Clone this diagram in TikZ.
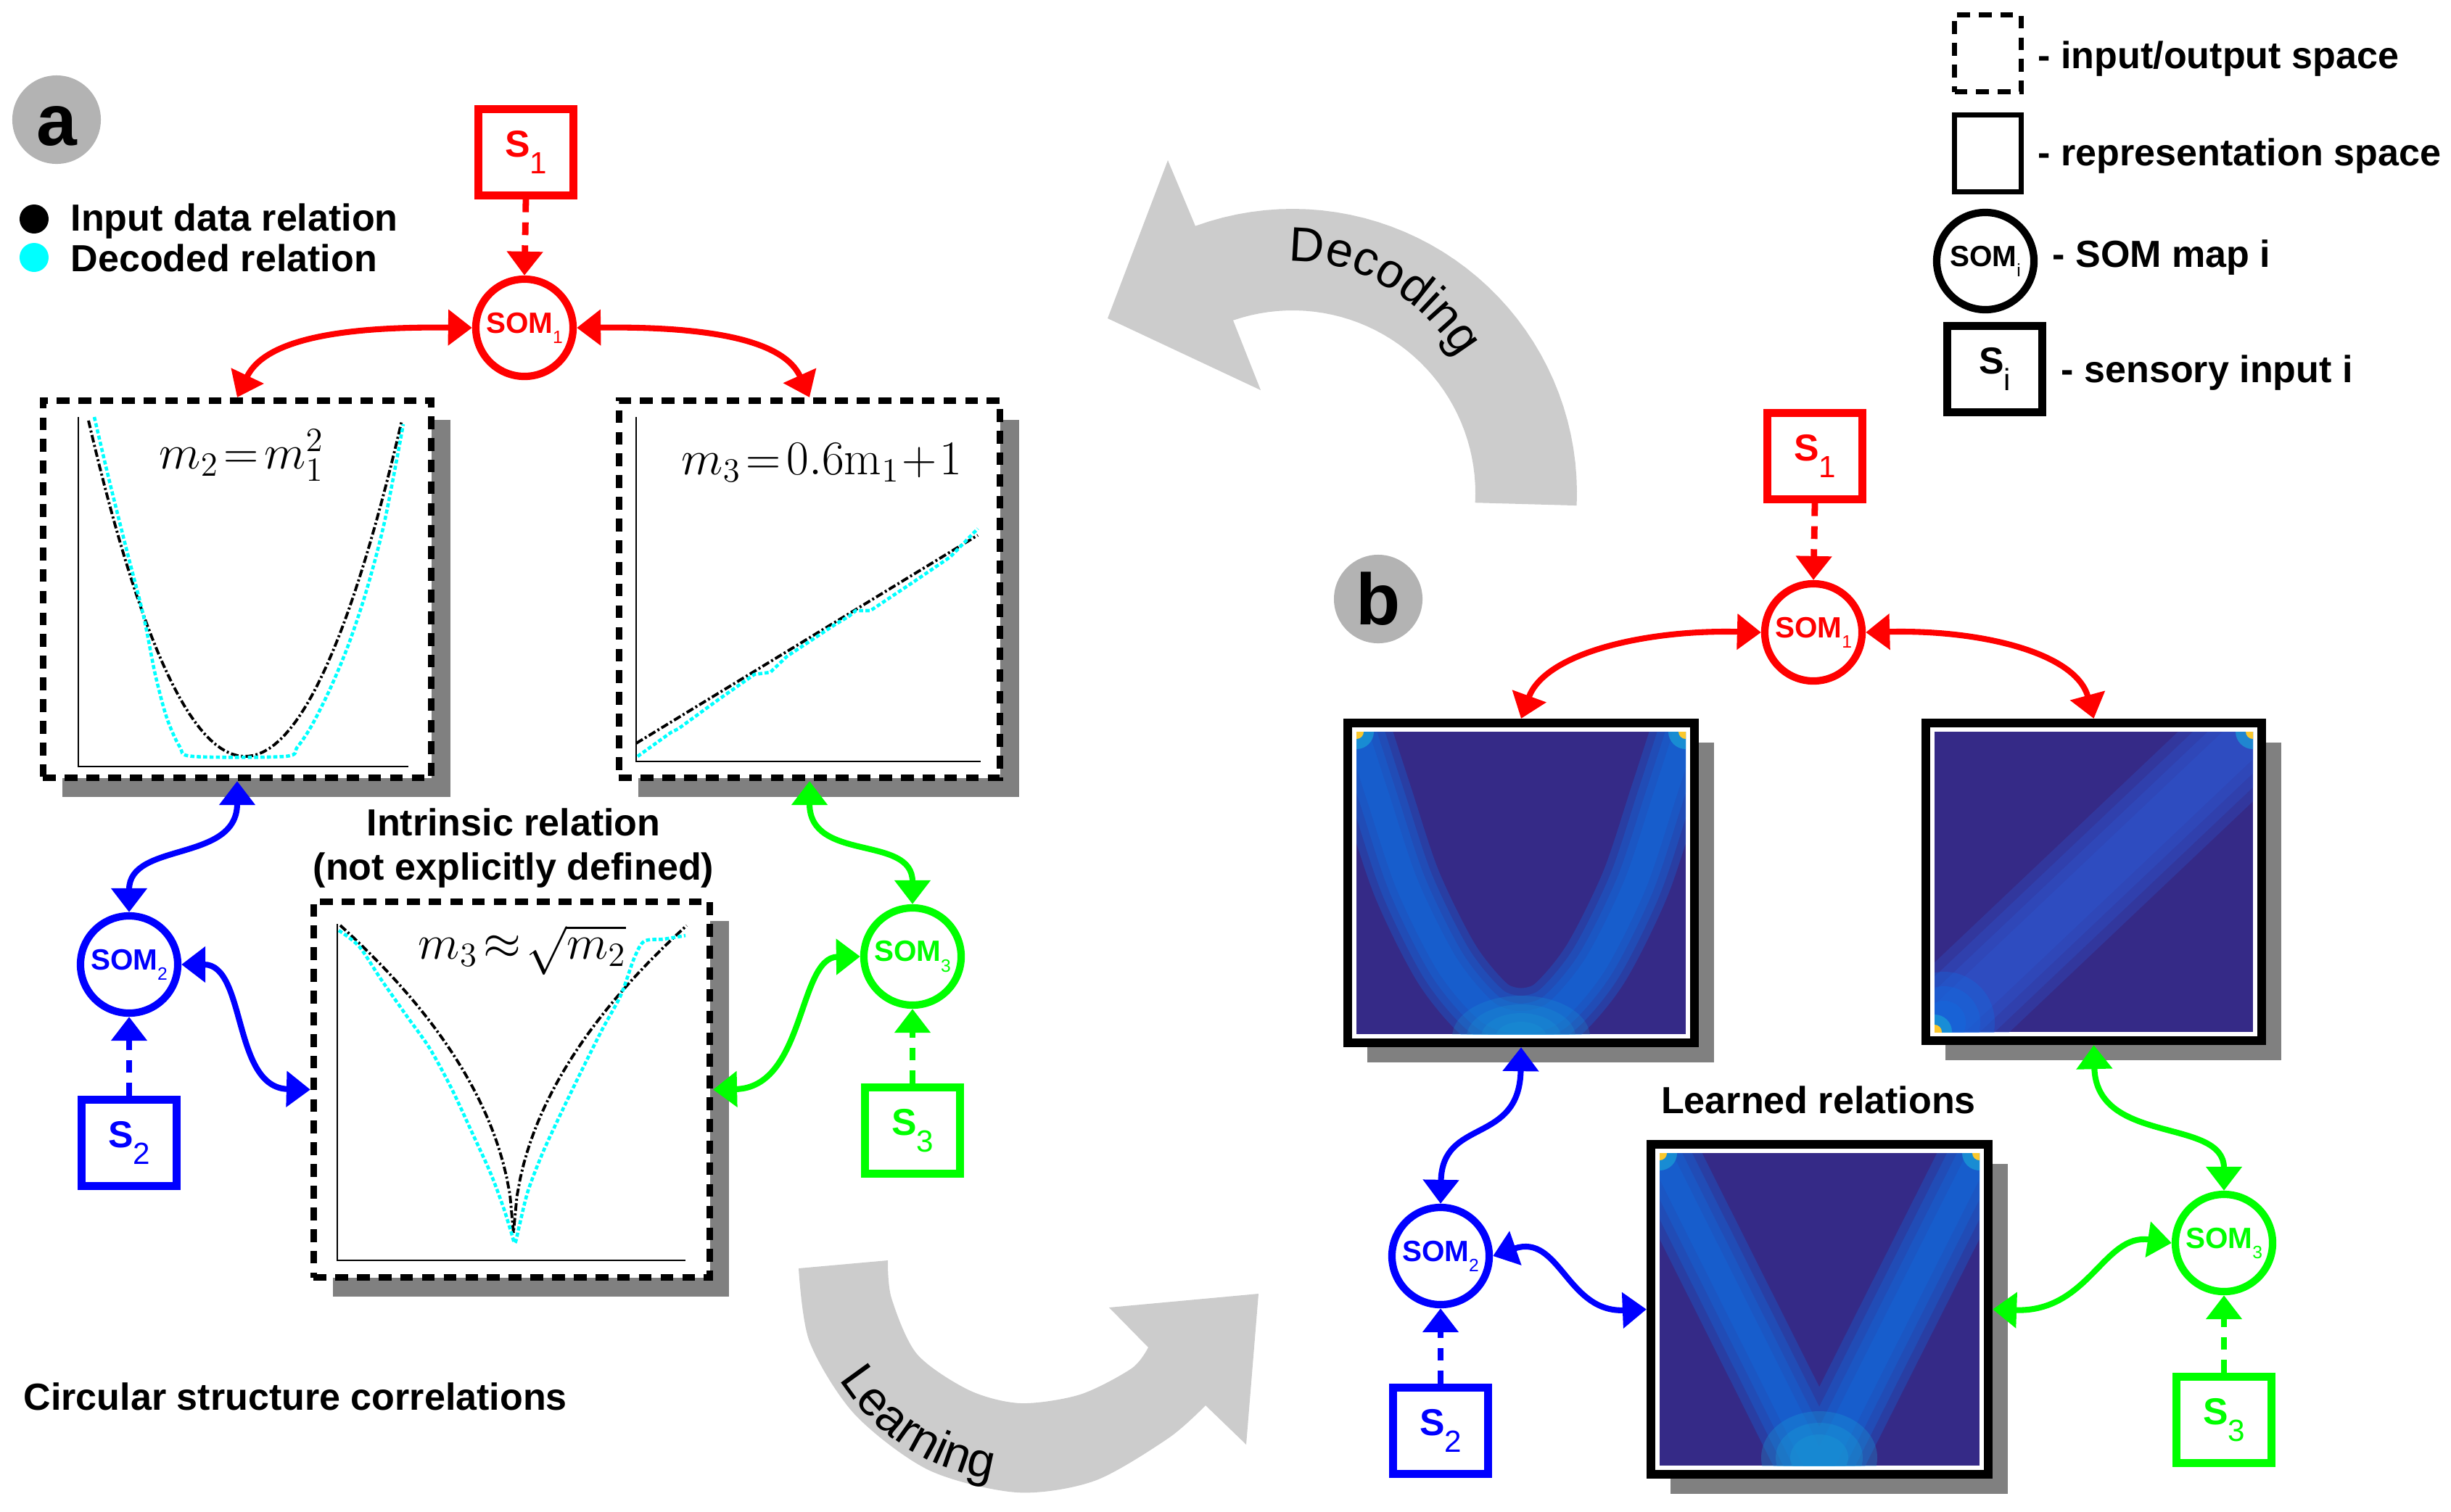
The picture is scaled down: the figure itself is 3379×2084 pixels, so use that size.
\documentclass[tikz,border=0pt]{standalone}
\usepackage{fix-cm}
\usepackage[no-math]{fontspec}
\setmainfont{Liberation Sans}
\usetikzlibrary{arrows.meta,shadows,decorations.text}

\definecolor{somred}{RGB}{255,0,0}
\definecolor{somblue}{RGB}{0,0,255}
\definecolor{somgreen}{RGB}{0,255,0}
\definecolor{bandgray}{RGB}{204,204,204}
\definecolor{shadowgray}{RGB}{128,128,128}
\definecolor{panelgray}{RGB}{179,179,179}
\definecolor{decoded}{RGB}{0,255,255}
\definecolor{hmbg}{RGB}{53,42,135}
\definecolor{hmband}{RGB}{15,110,228}
\definecolor{hmsoft}{RGB}{45,90,215}
\definecolor{hmglow}{RGB}{25,160,215}
\definecolor{hmhot}{RGB}{250,200,45}

\newcommand{\som}[1]{SOM\raisebox{-4pt}{\fontsize{7}{8}\selectfont\mdseries #1}}
\newcommand{\sens}[1]{S\raisebox{-6.5pt}{\fontsize{12}{14}\selectfont\mdseries #1}}
\newcommand{\arcfont}{\fontsize{19}{22}\selectfont}

\tikzset{
  bigtri/.tip={Triangle[length=3.3mm,width=4.8mm]},
  link/.style={line width=2.3pt, bigtri-bigtri},
  feed/.style={line width=2.5pt, dash pattern=on 5pt off 4pt, -bigtri},
  sensor/.style={draw, line width=3.1pt, fill=white, minimum width=1.31cm, minimum height=1.19cm, inner sep=0pt, font=\fontsize{14.7}{17}\selectfont\bfseries},
  somnode/.style={draw, circle, line width=2.9pt, fill=white, minimum size=1.34cm, inner sep=0pt, font=\fontsize{11.5}{13}\selectfont\bfseries},
  iospace/.style={draw, line width=2.5pt, dash pattern=on 5pt off 3.5pt, inner sep=0pt},
  ioshadowed/.style={fill=white, drop shadow={shadow xshift=2.65mm, shadow yshift=-2.65mm, fill=shadowgray, opacity=1}},
  repframe/.style={draw, fill=white, line width=3.4pt, inner sep=0pt, drop shadow={shadow xshift=2.7mm, shadow yshift=-2.7mm, fill=shadowgray, opacity=1}},
  lbl/.style={inner sep=0pt, font=\fontsize{14.8}{17.4}\selectfont\bfseries},
  panel/.style={circle, fill=panelgray, minimum size=1.22cm, inner sep=0pt, text height=20pt, text depth=0pt, font=\fontsize{28.5}{30}\selectfont\bfseries},
  axisline/.style={line width=0.4pt},
  inputrel/.style={line width=1.1pt, dash pattern=on 3pt off 1pt on 0.8pt off 1pt},
  decodedrel/.style={decoded, line width=1.3pt, dash pattern=on 1.6pt off 0.9pt},
  relation/.style={font=\fontsize{19}{22}\selectfont},
  keydot/.style={circle, fill, minimum size=0.4cm, inner sep=0pt}
}

\begin{document}
\begin{tikzpicture}[x=0.01cm,y=-0.01cm]
\useasboundingbox (0,0) rectangle (3379,2084);

\fill[bandgray] plot[domain=-2.5:110, samples=40] ({1782+392*cos(\x)},{680-392*sin(\x)}) -- (1610,221) -- (1527,439) -- (1738,538) -- plot[domain=0:112, samples=40] ({1782+252*cos(109-\x)},{680-252*sin(109-\x)}) -- cycle;
\path[decorate, decoration={text along path, text={|\arcfont|Decoding}, text align=center}] plot[domain=0:120, samples=50] ({1782+282*cos(125-\x)},{680-320*sin(125-\x)});

\fill[bandgray] plot[smooth] coordinates {(1101,1749) (1116,1850) (1178,1950) (1280,2027) (1402,2058) (1509,2042) (1611,1983) (1662,1938)} -- (1718,1992) -- (1735,1784) -- (1529,1803) -- plot[smooth] coordinates {(1583,1858) (1560,1887) (1489,1923) (1407,1935) (1336,1917) (1264,1867) (1229,1790) (1224,1738)} -- cycle;
\path[decorate, decoration={text along path, text={|\arcfont|Learning}, text align=center}] plot[domain=0:114, samples=50] ({1405+290*cos(180+\x)},{1750-292*sin(180+\x)});

\node[panel] (pa) at (78,165) {a};
\node[panel] (pb) at (1900,826) {b};

\node[keydot, black] (dotin) at (47,302) {};
\node[keydot, decoded] (dotdec) at (47,355) {};
\node[lbl, anchor=base west] (txtin) at (97,318) {Input data relation};
\node[lbl, anchor=base west] (txtdec) at (97,374) {Decoded relation};

\node[iospace, ioshadowed, minimum width=5.35cm, minimum height=5.2cm] (ioA) at (327,812.5) {};
\node[iospace, ioshadowed, minimum width=5.25cm, minimum height=5.2cm] (ioB) at (1116,812.5) {};
\node[iospace, ioshadowed, minimum width=5.46cm, minimum height=5.18cm] (ioC) at (705.5,1502.5) {};

\draw[axisline] (108,575) -- (108,1057) -- (563,1057);
\draw[inputrel] plot[domain=-1:1, samples=60] ({338+216*\x},{1043-463*\x*\x});
\draw[decodedrel] plot[smooth] coordinates {(130,575) (150,660) (175,760) (198,850) (214,930) (230,990) (248,1030) (266,1043) (393,1043) (410,1030) (430,1000) (455,950) (480,890) (505,815) (530,720) (556,585)};
\node[relation] (eqA) at (333,628) {$m_2\!=\!m_1^2$};

\draw[axisline] (877,575) -- (877,1050) -- (1352,1050);
\draw[inputrel] (877,1025) -- (1348,738);
\draw[decodedrel] plot coordinates {(879,1043) (925,1010) (935,1005) (990,965) (1040,930) (1062,927) (1085,905) (1150,862) (1170,850) (1180,842) (1200,842) (1260,802) (1310,768) (1348,729)};
\node[relation] (eqB) at (1133,638) {$m_3\!=\!0.6\mathrm{m}_1\!+\!1$};

\draw[axisline] (465,1274) -- (465,1738) -- (945,1738);
\draw[inputrel] plot[domain=-1:1, samples=101] ({708+239*\x},{1710-434*sqrt(abs(\x))});
\draw[decodedrel] plot[smooth] coordinates {(467,1283) (495,1305) (525,1350) (560,1400) (592,1445) (622,1500) (650,1560) (676,1617) (694,1665) (705,1700) (710,1714) (716,1690) (728,1642) (748,1590) (772,1538) (800,1480) (830,1420) (856,1372) (874,1322) (888,1298) (915,1295) (945,1290)};
\node[relation] (eqC) at (720,1310) {$m_3\!\approx\!\sqrt{m_2}$};

\node[lbl, anchor=base] (intr1) at (708,1152) {Intrinsic relation};
\node[lbl, anchor=base] (intr2) at (708,1213) {(not explicitly defined)};
\node[lbl, anchor=base west] (circ) at (32,1944) {Circular structure correlations};

\node[somred, sensor] (s1a) at (725,210) {\sens{1}};
\node[somred, somnode] (som1a) at (723,452) {\som{1}};
\node[somblue, sensor] (s2a) at (178,1576) {\sens{2}};
\node[somblue, somnode] (som2a) at (178,1330) {\som{2}};
\node[somgreen, sensor] (s3a) at (1258,1559) {\sens{3}};
\node[somgreen, somnode] (som3a) at (1258,1319) {\som{3}};

\draw[feed, somred] (s1a.south) -- (som1a.north);
\draw[feed, somblue] (s2a.north) -- (som2a.south);
\draw[feed, somgreen] (s3a.north) -- (som3a.south);
\draw[link, somred] (som1a.west) .. controls (470,450) and (365,468) .. (ioA.north);
\draw[link, somred] (som1a.east) .. controls (975,450) and (1080,468) .. (ioB.north);
\draw[link, somblue] (ioA.south) .. controls (327,1190) and (178,1160) .. (som2a.north);
\draw[link, somblue] (som2a.east) .. controls (340,1330) and (320,1500) .. (ioC.west);
\draw[link, somgreen] (ioB.south) .. controls (1116,1190) and (1258,1150) .. (som3a.north);
\draw[link, somgreen] (som3a.west) .. controls (1100,1320) and (1110,1500) .. (ioC.east);

\node[repframe, minimum width=4.78cm, minimum height=4.41cm] (mapL) at (2097,1217.5) {};
\node[repframe, minimum width=4.63cm, minimum height=4.38cm] (mapR) at (2886.5,1216) {};
\node[repframe, minimum width=4.65cm, minimum height=4.55cm] (mapC) at (2508.5,1805.5) {};

\begin{scope}
\clip (1870,1009) rectangle (2324,1426);
\fill[hmbg] (1870,1009) rectangle (2324,1426);
\foreach \w in {27,21,15,9}
  \draw[hmband, opacity=0.3, line width=\w pt, line cap=round] plot[smooth] coordinates {(1866,995) (1900,1100) (1940,1220) (1995,1330) (2050,1395) (2097,1410) (2144,1395) (2199,1330) (2254,1220) (2294,1100) (2328,995)};
\foreach \r in {95,75,55,35}
  \fill[hmglow, opacity=0.22] (2097,1430) ellipse ({\r} and {\r*0.6});
\foreach \x/\y in {1870/1009, 2324/1009} {
  \fill[hmglow, opacity=0.7] (\x,\y) circle (24);
  \fill[hmhot] (\x,\y) circle (10);
}
\end{scope}

\begin{scope}
\clip (2667,1009) rectangle (3106,1423);
\fill[hmbg] (2667,1009) rectangle (3106,1423);
\foreach \w in {40,32,24,16}
  \draw[hmsoft, opacity=0.28] [line width=\w pt] (2645,1445) -- (3125,990);
\foreach \r in {70,50,30}
  \fill[hmband, opacity=0.3] (2680,1410) ellipse ({\r} and {\r});
\foreach \x/\y in {2667/1423, 3106/1009} {
  \fill[hmglow, opacity=0.7] (\x,\y) circle (24);
  \fill[hmhot] (\x,\y) circle (10);
}
\end{scope}

\begin{scope}
\clip (2288,1590) rectangle (2729,2021);
\fill[hmbg] (2288,1590) rectangle (2729,2021);
\foreach \w in {30,23,16,9}
  \draw[hmband, opacity=0.3, line width=\w pt, line join=round] (2280,1575) -- (2508,2030) -- (2737,1575);
\foreach \r in {80,60,40}
  \fill[hmglow, opacity=0.3] (2508,2010) ellipse ({\r} and {\r*0.8});
\foreach \x/\y in {2288/1590, 2729/1590} {
  \fill[hmglow, opacity=0.7] (\x,\y) circle (24);
  \fill[hmhot] (\x,\y) circle (10);
}
\end{scope}

\node[lbl, anchor=base] (learned) at (2507,1535) {Learned relations};

\node[somred, sensor] (s1b) at (2502,629) {\sens{1}};
\node[somred, somnode] (som1b) at (2500,872) {\som{1}};
\node[somblue, sensor] (s2b) at (1986,1973) {\sens{2}};
\node[somblue, somnode] (som2b) at (1986,1732) {\som{2}};
\node[somgreen, sensor] (s3b) at (3066,1958) {\sens{3}};
\node[somgreen, somnode] (som3b) at (3066,1714) {\som{3}};

\draw[feed, somred] (s1b.south) -- (som1b.north);
\draw[feed, somblue] (s2b.north) -- (som2b.south);
\draw[feed, somgreen] (s3b.north) -- (som3b.south);
\draw[link, somred] (som1b.west) .. controls (2270,868) and (2130,900) .. (mapL.north);
\draw[link, somred] (som1b.east) .. controls (2730,868) and (2862,900) .. (mapR.north);
\draw[link, somblue] (mapL.south) .. controls (2095,1580) and (1988,1540) .. (som2b.north);
\draw[link, somblue] (som2b.east) .. controls (2150,1700) and (2160,1810) .. (mapC.west);
\draw[link, somgreen] (mapR.south) .. controls (2890,1580) and (3066,1540) .. (som3b.north);
\draw[link, somgreen] (som3b.west) .. controls (2900,1700) and (2880,1810) .. (mapC.east);

\node[iospace, line width=2pt, minimum width=0.92cm, minimum height=1.06cm] (keyio) at (2740.5,73.5) {};
\node[lbl, anchor=base west] (keyiotxt) at (2809,94) {- input/output space};
\node[draw, line width=2.2pt, minimum width=0.92cm, minimum height=1.06cm, inner sep=0pt] (keyrep) at (2740.5,211.5) {};
\node[lbl, anchor=base west] (keyreptxt) at (2809,228) {- representation space};
\node[somnode] (keysom) at (2737,360) {\som{i}};
\node[lbl, anchor=base west] (keysomtxt) at (2829,368) {- SOM map i};
\node[sensor] (keysens) at (2750,509) {\sens{i}};
\node[lbl, anchor=base west] (keysenstxt) at (2841,527) {- sensory input i};
\end{tikzpicture}
\end{document}
